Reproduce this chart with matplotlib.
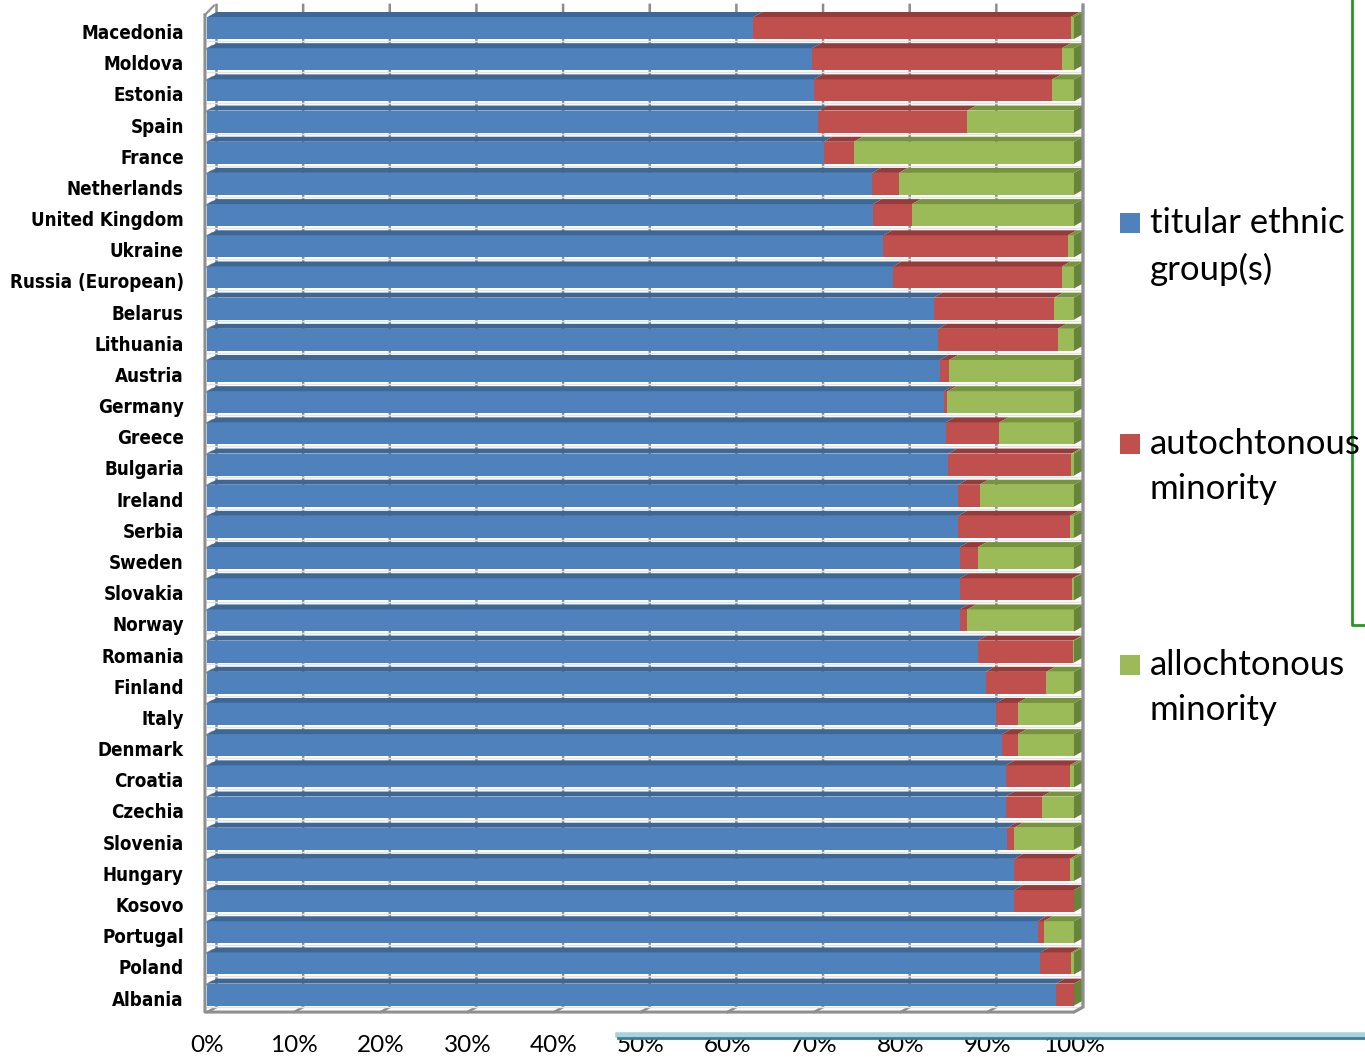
import numpy as np
import matplotlib.pyplot as plt
import matplotlib.transforms as mtransforms
from matplotlib.collections import PolyCollection
from matplotlib.lines import Line2D
from matplotlib.patches import Rectangle
from matplotlib import font_manager

# ---- data: share of population (%) by group ----
countries = ["Macedonia", "Moldova", "Estonia", "Spain", "France", "Netherlands",
             "United Kingdom", "Ukraine", "Russia (European)", "Belarus", "Lithuania",
             "Austria", "Germany", "Greece", "Bulgaria", "Ireland", "Serbia", "Sweden",
             "Slovakia", "Norway", "Romania", "Finland", "Italy", "Denmark", "Croatia",
             "Czechia", "Slovenia", "Hungary", "Kosovo", "Portugal", "Poland", "Albania"]

titular = [63.0, 69.8, 70.0, 70.5, 71.1, 76.7, 76.8, 78.0, 79.1, 83.8, 84.3,
           84.5, 85.0, 85.2, 85.5, 86.6, 86.6, 86.8, 86.8, 86.8, 88.9, 89.8,
           91.0, 91.7, 92.1, 92.1, 92.3, 93.1, 93.1, 95.8, 96.1, 97.9]
autochtonous = [36.6, 28.8, 27.5, 17.2, 3.5, 3.1, 4.5, 21.3, 19.5, 13.9, 13.8,
                1.1, 0.4, 6.2, 14.2, 2.5, 12.9, 2.1, 13.0, 0.9, 11.0, 7.0,
                2.5, 1.8, 7.4, 4.2, 0.8, 6.4, 6.9, 0.7, 3.6, 2.1]
allochtonous = [0.4, 1.4, 2.5, 12.3, 25.4, 20.2, 18.7, 0.7, 1.4, 2.3, 1.9,
                14.4, 14.6, 8.6, 0.3, 10.9, 0.5, 11.1, 0.2, 12.3, 0.1, 3.2,
                6.5, 6.5, 0.5, 3.7, 6.9, 0.5, 0.0, 3.5, 0.3, 0.0]

series_names = ["titular ethnic\ngroup(s)", "autochtonous\nminority", "allochtonous\nminority"]
x_ticks = list(range(0, 101, 10))
x_tick_labels = [f"{t}%" for t in x_ticks]

# colours: front face / top face, plus the right-hand end cap
front_colors = ["#4f81bd", "#c0504d", "#9bbb59"]
top_colors = ["#3d6795", "#953b39", "#77933d"]
cap_color = "#66843a"
grid_color = "#8c8c8c"

body_font = ["Lato", "DejaVu Sans"]

# a narrow bold face for the country names if one is around
names = {f.name for f in font_manager.fontManager.ttflist}
condensed = [f for f in font_manager.fontManager.ttflist
             if f.name == "DejaVu Sans" and "ondensed" in f.fname and "Bold" in f.fname]
if "Liberation Sans Narrow" in names:
    label_kw = dict(family="Liberation Sans Narrow", size=14.5)
elif condensed:
    label_kw = dict(family="DejaVu Sans", stretch="condensed", size=13.5)
else:
    label_kw = dict(family="Liberation Sans", size=12.5)

fig = plt.figure(figsize=(13.65, 10.6), dpi=100)
ax = fig.add_axes([0.152, 0.047, 0.6348, 0.9413])

n = len(countries)
y = np.arange(n)
h = 0.705            # bar thickness
dx, dy = 1.04, 0.16  # depth of the fake 3d extrusion (data units)
y_top = -0.74
y_floor = n - 1 + 0.56

ax.set_xlim(0, 100)
ax.set_ylim(n - 0.5, -0.5)
for s in ax.spines.values():
    s.set_visible(False)

# back wall gridlines (with their slanted foot on the floor)
for t in x_ticks:
    ax.add_line(Line2D([t, t + dx, t + dx], [y_floor, y_floor - dy, y_top],
                       color=grid_color, lw=1.8, zorder=1, clip_on=False))

# wall / floor edges
ax.add_line(Line2D([-0.29, -0.29, 100, 100 + dx, 100 + dx],
                   [-0.42, y_floor, y_floor, y_floor - dy, y_top],
                   color="#8f8f8f", lw=2.2, zorder=5, clip_on=False))
ax.add_line(Line2D([-0.29, -0.29 + dx], [-0.42, -0.42 - 0.3],
                   color="#8f8f8f", lw=1.5, zorder=5, clip_on=False))
for b in y[:-1] + 0.5:
    ax.add_line(Line2D([-0.29, -0.29 + dx * 0.8], [b + 0.2, b + 0.2 - dy * 0.8],
                       color="#9a9a9a", lw=1.2, zorder=2, clip_on=False))

# stacked bars
series = [np.array(titular), np.array(autochtonous), np.array(allochtonous)]
left = np.zeros(n)
for vals, fc, tc in zip(series, front_colors, top_colors):
    ax.barh(y, vals, left=left, height=h, color=fc, edgecolor="none", zorder=3)
    tops = []
    for yi, l0, w in zip(y, left, vals):
        if w <= 0:
            continue
        yt = yi - h / 2
        tops.append([(l0, yt), (l0 + w, yt), (l0 + w + dx, yt - dy), (l0 + dx, yt - dy)])
    ax.add_collection(PolyCollection(tops, facecolors=tc, edgecolors="none",
                                     zorder=3, clip_on=False))
    left = left + vals

# end caps on the right side of every bar
caps = []
for yi, total in zip(y, left):
    yt, yb = yi - h / 2, yi + h / 2
    caps.append([(total, yt), (total + dx, yt - dy), (total + dx, yb - dy), (total, yb)])
ax.add_collection(PolyCollection(caps, facecolors=cap_color, edgecolors="none",
                                 zorder=4, clip_on=False))

# faint shadow under each bar
for yi in y:
    ax.add_line(Line2D([0, 100 + dx], [yi + h / 2 + 0.06] * 2, color="#e3e3e3",
                       lw=1.0, zorder=2, clip_on=False))

ax.set_yticks(y, countries)
ax.set_xticks(x_ticks, x_tick_labels)
ax.tick_params(axis="y", length=0, pad=17)
ax.tick_params(axis="x", length=0, pad=18)
nudge = mtransforms.ScaledTranslation(0, -2.5 / 72, fig.dpi_scale_trans)
for lab in ax.get_yticklabels():
    lab.set_fontfamily(label_kw["family"])
    if "stretch" in label_kw:
        lab.set_fontstretch(label_kw["stretch"])
    lab.set_fontweight("bold")
    lab.set_fontsize(label_kw["size"])
    lab.set_transform(lab.get_transform() + nudge)
for lab in ax.get_xticklabels():
    lab.set_fontfamily(body_font)
    lab.set_fontsize(17.5)

# legend on the right, drawn by hand to keep the wide spacing
W, H = 1365, 1060
for i, (name, col) in enumerate(zip(series_names, front_colors)):
    cy = 223 + i * 221
    fig.patches.append(Rectangle((1120 / W, 1 - (cy + 10) / H), 20 / W, 20 / H,
                                 facecolor=col, edgecolor="none",
                                 transform=fig.transFigure))
    fig.text(1150 / W, 1 - (cy - 16) / H, name, fontsize=25, family=body_font,
             va="top", ha="left", linespacing=1.5)

# frame of the surrounding slide
fig.add_artist(Line2D([1352 / W, 1352 / W, 1 + 0.01], [1.01, 1 - 625 / H, 1 - 625 / H],
                      color="#1f9b1f", lw=2, transform=fig.transFigure))
fig.add_artist(Line2D([618 / W, 1.01], [1 - 1035 / H] * 2, color="#a6d3df", lw=4,
                      transform=fig.transFigure))
fig.add_artist(Line2D([618 / W, 1.01], [1 - 1038 / H] * 2, color="#3f7e8d", lw=2,
                      transform=fig.transFigure))

fig.savefig("out.png", dpi=100)
